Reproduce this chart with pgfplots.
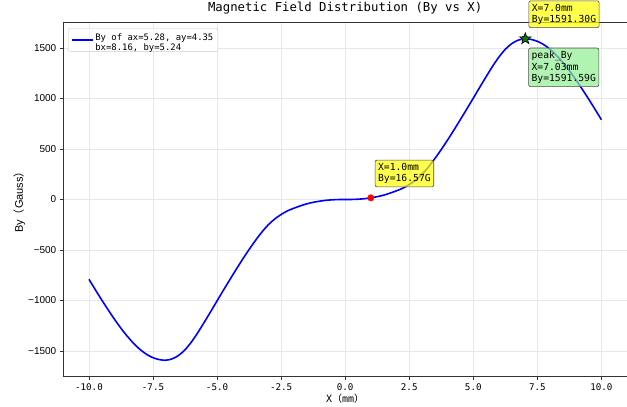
\documentclass[border=0pt]{standalone}
\usepackage{fontspec}
\setmainfont{DejaVu Sans Mono}
\newfontfamily\arialf{Liberation Sans}
\newfontfamily\cjk{Noto Sans CJK SC}
\usepackage{pgfplots}
\pgfplotsset{compat=1.18}
\usepackage{pgfplotstable}

\pgfdeclareplotmark{fstar}{%
  \pgfpathmoveto{\pgfpointpolar{90}{\pgfplotmarksize}}%
  \pgfpathlineto{\pgfpointpolar{126}{0.4\pgfplotmarksize}}%
  \pgfpathlineto{\pgfpointpolar{162}{\pgfplotmarksize}}%
  \pgfpathlineto{\pgfpointpolar{198}{0.4\pgfplotmarksize}}%
  \pgfpathlineto{\pgfpointpolar{234}{\pgfplotmarksize}}%
  \pgfpathlineto{\pgfpointpolar{270}{0.4\pgfplotmarksize}}%
  \pgfpathlineto{\pgfpointpolar{306}{\pgfplotmarksize}}%
  \pgfpathlineto{\pgfpointpolar{342}{0.4\pgfplotmarksize}}%
  \pgfpathlineto{\pgfpointpolar{18}{\pgfplotmarksize}}%
  \pgfpathlineto{\pgfpointpolar{54}{0.4\pgfplotmarksize}}%
  \pgfpathclose
  \pgfusepathqfillstroke
}

\definecolor{annyellow}{RGB}{255,255,0}
\definecolor{anngreen}{RGB}{144,238,144}
\definecolor{mplgreen}{RGB}{0,128,0}

\pgfplotstableread{
x By
-10 -790
-9.75 -894
-9.5 -995
-9.25 -1093
-9 -1187
-8.75 -1275
-8.5 -1355
-8.25 -1426
-8 -1486
-7.75 -1533
-7.5 -1566
-7.25 -1585
-7 -1591
-6.75 -1577
-6.5 -1543
-6.25 -1487
-6 -1410
-5.75 -1317
-5.5 -1215
-5.25 -1110
-5 -1003
-4.75 -897
-4.5 -793
-4.25 -690
-4 -590
-3.75 -495
-3.5 -405
-3.25 -322
-3 -250
-2.75 -193
-2.5 -148
-2.25 -112
-2 -86
-1.75 -63
-1.5 -43
-1.25 -28
-1 -16.6
-0.75 -8
-0.5 -3
-0.25 -0.4
0 0
0.25 0.4
0.5 3
0.75 8
1 16.6
1.25 28
1.5 43
1.75 63
2 86
2.25 112
2.5 148
2.75 193
3 250
3.25 322
3.5 405
3.75 495
4 590
4.25 690
4.5 793
4.75 897
5 1003
5.25 1110
5.5 1215
5.75 1317
6 1410
6.25 1487
6.5 1543
6.75 1577
7 1591
7.25 1585
7.5 1566
7.75 1533
8 1486
8.25 1426
8.5 1355
8.75 1275
9 1187
9.25 1093
9.5 995
9.75 894
10 790
}\bydata

\begin{document}
\begin{tikzpicture}
\useasboundingbox (-63.3pt,-30pt) rectangle (563.2pt,376pt);
\begin{axis}[
  at={(0pt,0pt)}, anchor=south west,
  scale only axis, width=563.2pt, height=353.3pt,
  xmin=-11, xmax=11, ymin=-1750, ymax=1750,
  clip=false,
  xtick={-10,-7.5,-5,-2.5,0,2.5,5,7.5,10},
  xticklabels={-10.0,-7.5,-5.0,-2.5,0.0,2.5,5.0,7.5,10.0},
  ytick={-1500,-1000,-500,0,500,1000,1500},
  yticklabels={−1500,−1000,−500,0,500,1000,1500},
  xtick pos=lower, ytick pos=left,
  tick align=outside, major tick length=3.5pt,
  tick style={black!80, line width=0.8pt},
  axis line style={black!80, line width=0.8pt},
  grid=major, grid style={black!9, line width=0.8pt},
  xticklabel style={font=\fontsize{9.2}{10}\selectfont},
  yticklabel style={font=\arialf\fontsize{10}{12}\selectfont},
  title={Magnetic Field Distribution (By vs X)},
  title style={font=\fontsize{12.3}{14}\selectfont, at={(axis description cs:0.5,1)}, anchor=center, yshift=9pt},
  xlabel={X{\cjk （}mm{\cjk ）}},
  xlabel style={font=\fontsize{10}{12}\selectfont, at={([yshift=-22pt]axis description cs:0.5,0)}, anchor=center},
  ylabel={By{\cjk （}Gauss{\cjk ）}},
  ylabel style={font=\arialf\fontsize{11}{13}\selectfont, at={([xshift=-44pt]axis description cs:0,0.5)}, anchor=center},
  legend style={at={(axis description cs:0,1)}, anchor=north west, xshift=4.7pt, yshift=-5.3pt,
    draw=black!20, rounded corners=2pt, fill=white, fill opacity=0.8, text opacity=1,
    font=\fontsize{8.9}{10.6}\selectfont, inner sep=2.5pt},
  legend cell align=left,
  legend image code/.code={\draw[#1] (0pt,0pt) -- (21pt,0pt);},
]
\addplot[blue, line width=1.6pt, smooth, tension=0.5] table[x=x, y=By] {\bydata};
\addlegendentry{\begin{tabular}{@{}l@{}}By of ax=5.28, ay=4.35\\bx=8.16, by=5.24\end{tabular}}

\addplot[only marks, mark=*, mark size=3.2pt, color=red, forget plot] coordinates {(1,16.57) (7,1591.30)};
\addplot[only marks, mark=fstar, mark size=6pt, mark options={fill=mplgreen, draw=black, line width=0.6pt}, forget plot] coordinates {(7.03,1591.59)};

\node[anchor=south west, xshift=4pt, yshift=10.6pt, fill=annyellow, fill opacity=0.7, text opacity=1,
  draw=black!70, line width=0.6pt, rounded corners=2pt, inner sep=3pt, align=left,
  font=\fontsize{9.7}{11.6}\selectfont] at (axis cs:1,16.57) {X=1.0mm\\By=16.57G};
\node[anchor=south west, xshift=4pt, yshift=10.8pt, fill=annyellow, fill opacity=0.7, text opacity=1,
  draw=black!70, line width=0.6pt, rounded corners=2pt, inner sep=3pt, align=left,
  font=\fontsize{9.7}{11.6}\selectfont] at (axis cs:7,1591.30) {X=7.0mm\\By=1591.30G};
\node[anchor=north west, xshift=3pt, yshift=-9pt, fill=anngreen, fill opacity=0.7, text opacity=1,
  draw=black!70, line width=0.6pt, rounded corners=2pt, inner sep=3pt, align=left,
  font=\fontsize{9.7}{11.6}\selectfont] at (axis cs:7.03,1591.59) {peak\_By\\X=7.03mm\\By=1591.59G};
\end{axis}
\end{tikzpicture}
\end{document}
